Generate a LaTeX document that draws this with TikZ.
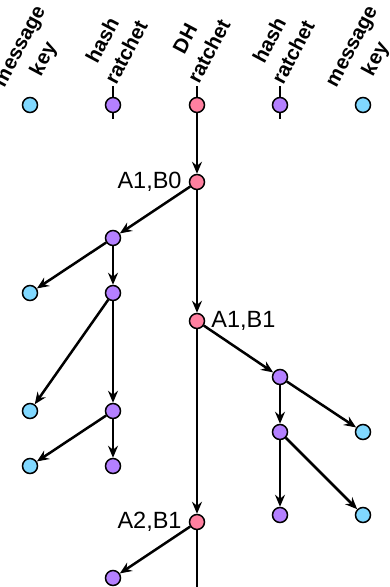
\documentclass[tikz,border=0pt]{standalone}
\usepackage{fontspec}
\setmainfont{Liberation Sans}
\usetikzlibrary{arrows.meta}
\definecolor{mkcol}{RGB}{128,216,255}
\definecolor{hrcol}{RGB}{180,128,255}
\definecolor{dhcol}{RGB}{255,128,160}
\tikzset{
  dot/.style={circle, draw=black, line width=1.5pt, minimum size=15pt, inner sep=0pt},
  mk/.style={dot, fill=mkcol},
  hr/.style={dot, fill=hrcol},
  dh/.style={dot, fill=dhcol},
  conn/.style={line width=2.5pt, draw=black},
  arr/.style={conn, -{Stealth[length=12pt,width=10pt,inset=4pt]}},
  head/.style={rotate=62, align=center, font=\fontsize{20.5pt}{27pt}\selectfont\bfseries, inner sep=0pt},
  lab/.style={font=\fontsize{23.5pt}{26pt}\selectfont, inner sep=0pt},
}
\begin{document}
\begin{tikzpicture}[x=1pt,y=-1pt]
\useasboundingbox (0,0) rectangle (390,587);
% headings
\node[head] (t1) at (34,54) {message\\key};
\node[head] (t2) at (114,46) {hash\\ratchet};
\node[head] (t3) at (197,45) {DH\\ratchet};
\node[head] (t4) at (281,46) {hash\\ratchet};
\node[head] (t5) at (366,54) {message\\key};
% coordinates for stubs
\coordinate (s2a) at (113,86);
\coordinate (s2b) at (113,119);
\coordinate (s3a) at (197,86);
\coordinate (s4a) at (280,86);
\coordinate (s4b) at (280,119);
\coordinate (dhend) at (197,587);
% nodes
\node[mk] (m0) at (30,105) {};
\node[hr] (h0) at (113,105) {};
\node[dh] (d0) at (197,105) {};
\node[hr] (g0) at (280,105) {};
\node[mk] (n0) at (363,105) {};

\node[dh] (ab0) at (197,182) {};
\node[hr] (h1) at (113,238) {};
\node[mk] (m1) at (30,293) {};
\node[hr] (h2) at (113,293) {};
\node[dh] (ab1) at (197,321) {};
\node[hr] (g1) at (280,377) {};
\node[mk] (m2) at (30,411) {};
\node[hr] (h3) at (113,411) {};
\node[mk] (n1) at (363,432) {};
\node[hr] (g2) at (280,432) {};
\node[mk] (m3) at (30,466) {};
\node[hr] (h4) at (113,466) {};
\node[hr] (g3) at (280,515) {};
\node[mk] (n2) at (363,515) {};
\node[dh] (ab2) at (197,522) {};
\node[hr] (h5) at (113,578) {};

% labels
\node[lab, anchor=east] (lab0) at ([xshift=-7pt]ab0.west) {A1,B0};
\node[lab, anchor=west] (lab1) at ([xshift=6pt]ab1.east) {A1,B1};
\node[lab, anchor=east] (lab2) at ([xshift=-7pt]ab2.west) {A2,B1};

% stubs
\draw[conn] (s2a) -- (h0.north);
\draw[conn] (h0.south) -- (s2b);
\draw[conn] (s3a) -- (d0.north);
\draw[conn] (s4a) -- (g0.north);
\draw[conn] (g0.south) -- (s4b);

% DH chain
\draw[arr] (d0) -- (ab0);
\draw[arr] (ab0) -- (ab1);
\draw[arr] (ab1) -- (ab2);
\draw[conn] (ab2) -- (dhend);

% left chain
\draw[arr] (ab0) -- (h1);
\draw[arr] (h1) -- (m1);
\draw[arr] (h1) -- (h2);
\draw[arr] (h2) -- (m2);
\draw[arr] (h2) -- (h3);
\draw[arr] (h3) -- (m3);
\draw[arr] (h3) -- (h4);

% right chain
\draw[arr] (ab1) -- (g1);
\draw[arr] (g1) -- (n1);
\draw[arr] (g1) -- (g2);
\draw[arr] (g2) -- (n2);
\draw[arr] (g2) -- (g3);

% bottom
\draw[arr] (ab2) -- (h5);
\end{tikzpicture}
\end{document}
